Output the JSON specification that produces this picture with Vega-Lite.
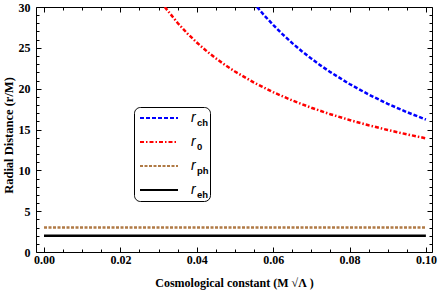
{
  "$schema": "https://vega.github.io/schema/vega-lite/v6.json",
  "width": 396,
  "height": 245,
  "autosize": {"type": "none"},
  "padding": {"left": 36, "top": 7, "right": 6, "bottom": 45},
  "background": "white",
  "config": {
    "view": {"stroke": "#000000", "strokeWidth": 1},
    "axis": {"grid": false, "domain": false, "tickColor": "#000000", "labelColor": "#000000", "titleColor": "#000000", "labelFont": "Liberation Serif", "titleFont": "Liberation Serif", "labelFontWeight": "bold", "titleFontWeight": "bold", "labelFontSize": 12, "titleFontSize": 12}
  },
  "data": {"values": [
    {"x": 0.03162, "y": 30.0, "s": "r_0", "k": "0"},
    {"x": 0.035, "y": 28.04, "s": "r_0", "k": "0"},
    {"x": 0.0375, "y": 26.78, "s": "r_0", "k": "0"},
    {"x": 0.04, "y": 25.65, "s": "r_0", "k": "0"},
    {"x": 0.0425, "y": 24.63, "s": "r_0", "k": "0"},
    {"x": 0.045, "y": 23.71, "s": "r_0", "k": "0"},
    {"x": 0.0475, "y": 22.87, "s": "r_0", "k": "0"},
    {"x": 0.05, "y": 22.10, "s": "r_0", "k": "0"},
    {"x": 0.055, "y": 20.74, "s": "r_0", "k": "0"},
    {"x": 0.06, "y": 19.57, "s": "r_0", "k": "0"},
    {"x": 0.065, "y": 18.56, "s": "r_0", "k": "0"},
    {"x": 0.07, "y": 17.66, "s": "r_0", "k": "0"},
    {"x": 0.075, "y": 16.87, "s": "r_0", "k": "0"},
    {"x": 0.08, "y": 16.16, "s": "r_0", "k": "0"},
    {"x": 0.085, "y": 15.52, "s": "r_0", "k": "0"},
    {"x": 0.09, "y": 14.94, "s": "r_0", "k": "0"},
    {"x": 0.095, "y": 14.41, "s": "r_0", "k": "0"},
    {"x": 0.1, "y": 13.92, "s": "r_0", "k": "0"},
    {"x": 0.05578, "y": 30.0, "s": "r_ch", "k": "ch"},
    {"x": 0.0578, "y": 28.91, "s": "r_ch", "k": "ch"},
    {"x": 0.06, "y": 27.81, "s": "r_ch", "k": "ch"},
    {"x": 0.0625, "y": 26.65, "s": "r_ch", "k": "ch"},
    {"x": 0.065, "y": 25.58, "s": "r_ch", "k": "ch"},
    {"x": 0.0675, "y": 24.59, "s": "r_ch", "k": "ch"},
    {"x": 0.07, "y": 23.68, "s": "r_ch", "k": "ch"},
    {"x": 0.0725, "y": 22.82, "s": "r_ch", "k": "ch"},
    {"x": 0.075, "y": 22.02, "s": "r_ch", "k": "ch"},
    {"x": 0.08, "y": 20.57, "s": "r_ch", "k": "ch"},
    {"x": 0.085, "y": 19.29, "s": "r_ch", "k": "ch"},
    {"x": 0.09, "y": 18.15, "s": "r_ch", "k": "ch"},
    {"x": 0.095, "y": 17.13, "s": "r_ch", "k": "ch"},
    {"x": 0.1, "y": 16.22, "s": "r_ch", "k": "ch"},
    {"x": 0.0, "y": 3.0, "s": "r_ph", "k": "ph"},
    {"x": 0.1, "y": 3.0, "s": "r_ph", "k": "ph"},
    {"x": 0.0, "y": 2.0, "s": "r_eh", "k": "eh"},
    {"x": 0.1, "y": 2.0, "s": "r_eh", "k": "eh"}
  ]},
  "resolve": {"scale": {"x": "independent", "y": "independent"}, "axis": {"x": "independent", "y": "independent"}},
  "layer": [
    {
      "mark": {"type": "line", "strokeWidth": 2.5, "clip": true},
      "encoding": {
        "x": {"field": "x", "type": "quantitative", "scale": {"domain": [-0.0021, 0.1016], "nice": false, "zero": false},
          "axis": {"orient": "bottom", "values": [0, 0.02, 0.04, 0.06, 0.08, 0.1], "format": ".2f", "tickSize": -5, "labelPadding": 7, "title": "Cosmological constant (M √Λ )", "titlePadding": 12}},
        "y": {"field": "y", "type": "quantitative", "scale": {"domain": [0, 30], "nice": false, "zero": false},
          "axis": {"orient": "left", "values": [0, 5, 10, 15, 20, 25, 30], "tickSize": -5, "labelPadding": 11, "title": "Radial Distance (r/M)", "titlePadding": 3, "titleFontSize": 12.5, "titleY": 128}},
        "color": {"field": "s", "type": "nominal",
          "scale": {"domain": ["r_ch", "r_0", "r_ph", "r_eh"], "range": ["#0000FF", "#FF0000", "#B07A45", "#000000"]},
          "legend": {"orient": "none", "legendX": 98, "legendY": 99, "title": null, "labelExpr": "'r'", "labelFont": "Liberation Sans", "labelFontStyle": "italic", "labelFontSize": 14, "labelColor": "#000000", "symbolType": "stroke", "symbolSize": 1444, "symbolStrokeWidth": 2, "labelOffset": 12, "clipHeight": 14, "rowPadding": 10, "padding": 5, "labelLimit": 60, "symbolOffset": 0}},
        "strokeDash": {"field": "s", "type": "nominal",
          "scale": {"domain": ["r_ch", "r_0", "r_ph", "r_eh"], "range": [[4, 2], [4, 2, 1.5, 2], [3, 1.5], [1, 0]]},
          "legend": null},
        "opacity": {"field": "k", "type": "nominal",
          "scale": {"domain": ["ch", "0", "ph", "eh"], "range": [1, 1, 1, 1]},
          "legend": {"orient": "none", "legendX": 98, "legendY": 100, "title": null, "labelFont": "Liberation Sans", "labelFontSize": 9.5, "labelFontWeight": "bold", "labelColor": "#000000", "labelBaseline": "top", "symbolType": "stroke", "symbolSize": 1444, "symbolOpacity": 0, "symbolStrokeWidth": 0, "labelOffset": 24, "clipHeight": 20, "rowPadding": 4, "padding": 1, "strokeColor": "#000000", "cornerRadius": 6, "symbolOffset": 0}}
      }
    },
    {
      "mark": {"type": "point", "opacity": 0},
      "encoding": {
        "x": {"field": "x", "type": "quantitative", "scale": {"domain": [-0.0021, 0.1016], "nice": false, "zero": false},
          "axis": {"orient": "bottom", "values": [0.005, 0.01, 0.015, 0.025, 0.03, 0.035, 0.045, 0.05, 0.055, 0.065, 0.07, 0.075, 0.085, 0.09, 0.095], "tickSize": -3, "labels": false, "title": null}},
        "y": {"field": "y", "type": "quantitative", "scale": {"domain": [0, 30], "nice": false, "zero": false},
          "axis": {"orient": "left", "values": [1, 2, 3, 4, 6, 7, 8, 9, 11, 12, 13, 14, 16, 17, 18, 19, 21, 22, 23, 24, 26, 27, 28, 29], "tickSize": -3, "labels": false, "title": null}}
      }
    },
    {
      "mark": {"type": "point", "opacity": 0},
      "encoding": {
        "x": {"field": "x", "type": "quantitative", "scale": {"domain": [-0.0021, 0.1016], "nice": false, "zero": false},
          "axis": {"orient": "top", "values": [0, 0.02, 0.04, 0.06, 0.08, 0.1], "tickSize": -5, "labels": false, "title": null}},
        "y": {"field": "y", "type": "quantitative", "scale": {"domain": [0, 30], "nice": false, "zero": false},
          "axis": {"orient": "right", "values": [0, 5, 10, 15, 20, 25, 30], "tickSize": -5, "labels": false, "title": null}}
      }
    },
    {
      "mark": {"type": "point", "opacity": 0},
      "encoding": {
        "x": {"field": "x", "type": "quantitative", "scale": {"domain": [-0.0021, 0.1016], "nice": false, "zero": false},
          "axis": {"orient": "top", "values": [0.005, 0.01, 0.015, 0.025, 0.03, 0.035, 0.045, 0.05, 0.055, 0.065, 0.07, 0.075, 0.085, 0.09, 0.095], "tickSize": -3, "labels": false, "title": null}},
        "y": {"field": "y", "type": "quantitative", "scale": {"domain": [0, 30], "nice": false, "zero": false},
          "axis": {"orient": "right", "values": [1, 2, 3, 4, 6, 7, 8, 9, 11, 12, 13, 14, 16, 17, 18, 19, 21, 22, 23, 24, 26, 27, 28, 29], "tickSize": -3, "labels": false, "title": null}}
      }
    }
  ]
}
